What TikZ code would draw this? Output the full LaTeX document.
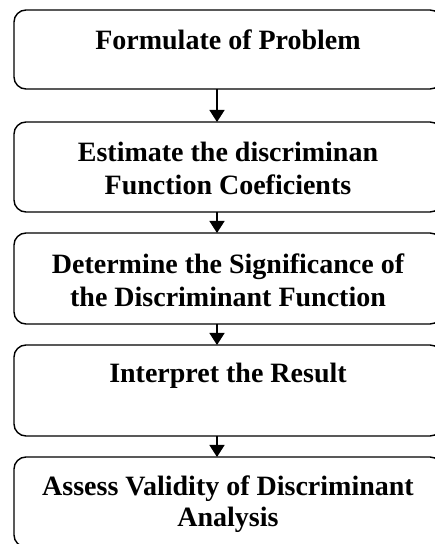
\documentclass[tikz,border=0pt]{standalone}
\usepackage{fontspec}
\setmainfont{Liberation Serif}
\usetikzlibrary{arrows.meta,calc}
\begin{document}
\begin{tikzpicture}[x=1pt,y=1pt,
  stepbox/.style={draw=black, line width=1.4pt, rounded corners=12pt, minimum width=428pt, inner sep=0pt, outer sep=0pt},
  lbl/.style={anchor=base, inner sep=0pt, font=\fontsize{28}{33}\selectfont\bfseries},
  arr/.style={line width=1.4pt, -{Triangle[width=15pt,length=12pt]}}]
\useasboundingbox (0,0) rectangle (435,544);
\node[stepbox, minimum height=79pt] (b1) at (228,494.5) {};
\node[stepbox, minimum height=90pt] (b2) at (228,377) {};
\node[stepbox, minimum height=91pt] (b3) at (228,265.5) {};
\node[stepbox, minimum height=91pt] (b4) at (228,153.5) {};
\node[stepbox, minimum height=90pt] (b5) at (228,42) {};
\coordinate (ax) at (217,0);
\node[lbl] (t1) at (228,494) {Formulate of Problem};
\node[lbl] (t2a) at (228,382) {Estimate the discriminan};
\node[lbl] (t2b) at (228,349) {Function Coeficients};
\node[lbl] (t3a) at (228,270) {Determine the Significance of};
\node[lbl] (t3b) at (228,237) {the Discriminant Function};
\node[lbl] (t4) at (228,161) {Interpret the Result};
\node[lbl] (t5a) at (228,48) {Assess Validity of Discriminant};
\node[lbl] (t5b) at (228,17) {Analysis};
\draw[arr] (b1.south -| ax) -- (b2.north -| ax);
\draw[arr] (b2.south -| ax) -- (b3.north -| ax);
\draw[arr] (b3.south -| ax) -- (b4.north -| ax);
\draw[arr] (b4.south -| ax) -- (b5.north -| ax);
\end{tikzpicture}
\end{document}
